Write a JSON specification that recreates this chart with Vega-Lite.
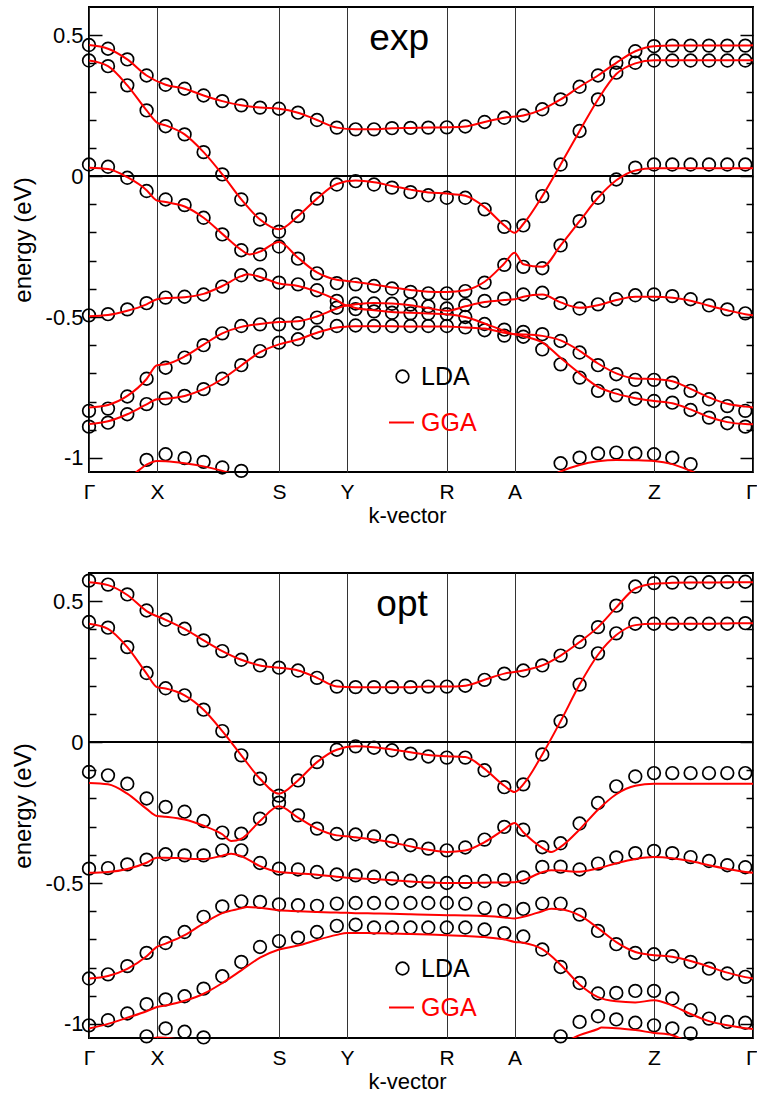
{
"$schema": "https://vega.github.io/schema/vega-lite/v6.json",
"padding": {"left": 10, "top": 6, "right": 5, "bottom": 2},
"spacing": 42,
"config": {
  "font": "Liberation Sans",
  "view": {"stroke": "black", "strokeWidth": 2},
  "axis": {"labelFont": "Liberation Sans", "titleFont": "Liberation Sans", "titleFontWeight": "normal", "labelColor": "black", "titleColor": "black"},
  "axisX": {"labelAlign": {"condition": {"test": "datum.value > 600", "value": "right"}, "value": "center"}, "labelOffset": {"condition": {"test": "datum.value > 600", "value": 4}, "value": 0}},
  "legend": {"labelFont": "Liberation Sans"}
},
"datasets": {
"exp": [
{"b":1,"k":0,"l":0.465,"g":0.465},{"b":1,"k":19,"l":0.452,"g":0.452},{"b":1,"k":38.3,"l":0.414,"g":0.414},{"b":1,"k":57.6,"l":0.357,"g":0.357},{"b":1,"k":76.6,"l":0.324,"g":0.324},{"b":1,"k":95.6,"l":0.31,"g":0.31},{"b":1,"k":114.6,"l":0.286,"g":0.286},{"b":1,"k":133.3,"l":0.266,"g":0.266},{"b":1,"k":152.3,"l":0.251,"g":0.251},{"b":1,"k":171,"l":0.243,"g":0.243},{"b":1,"k":190,"l":0.239,"g":0.239},{"b":1,"k":209,"l":0.225,"g":0.225},{"b":1,"k":228,"l":0.199,"g":0.199},{"b":1,"k":247.8,"l":0.172,"g":0.172},{"b":1,"k":266.6,"l":0.166,"g":0.166},{"b":1,"k":285,"l":0.166,"g":0.166},{"b":1,"k":303,"l":0.17,"g":0.17},{"b":1,"k":321.5,"l":0.171,"g":0.171},{"b":1,"k":339.3,"l":0.172,"g":0.172},{"b":1,"k":357.8,"l":0.173,"g":0.173},{"b":1,"k":376.3,"l":0.176,"g":0.176},{"b":1,"k":395.6,"l":0.192,"g":0.192},{"b":1,"k":415.3,"l":0.207,"g":0.207},{"b":1,"k":434.3,"l":0.215,"g":0.215},{"b":1,"k":453.3,"l":0.237,"g":0.237},{"b":1,"k":471.6,"l":0.272,"g":0.272},{"b":1,"k":490.6,"l":0.317,"g":0.317},{"b":1,"k":509,"l":0.357,"g":0.357},{"b":1,"k":527.3,"l":0.402,"g":0.402},{"b":1,"k":546.3,"l":0.443,"g":0.443},{"b":1,"k":565,"l":0.461,"g":0.461},{"b":1,"k":583.3,"l":0.463,"g":0.463},{"b":1,"k":601.6,"l":0.463,"g":0.463},{"b":1,"k":620,"l":0.463,"g":0.463},{"b":1,"k":638.3,"l":0.463,"g":0.463},{"b":1,"k":656.3,"l":0.463,"g":0.463},{"b":1,"k":664,"g":0.464},
{"b":2,"k":0,"l":0.41,"g":0.41},{"b":2,"k":19,"l":0.39,"g":0.39},{"b":2,"k":38.3,"l":0.322,"g":0.322},{"b":2,"k":57.6,"l":0.233,"g":0.233},{"b":2,"k":68,"g":0.19},{"b":2,"k":76.6,"l":0.177,"g":0.18},{"b":2,"k":95.6,"l":0.148,"g":0.148},{"b":2,"k":114.6,"l":0.085,"g":0.085},{"b":2,"k":133.3,"l":0.006,"g":0.006},{"b":2,"k":152.3,"l":-0.083,"g":-0.083},{"b":2,"k":171,"l":-0.154,"g":-0.154},{"b":2,"k":190,"l":-0.197,"g":-0.189},{"b":2,"k":209,"l":-0.142,"g":-0.142},{"b":2,"k":228,"l":-0.08,"g":-0.08},{"b":2,"k":247.8,"l":-0.03,"g":-0.028},{"b":2,"k":266.6,"l":-0.018,"g":-0.016},{"b":2,"k":285,"l":-0.03,"g":-0.022},{"b":2,"k":303,"l":-0.041,"g":-0.035},{"b":2,"k":321.5,"l":-0.057,"g":-0.048},{"b":2,"k":339.3,"l":-0.068,"g":-0.058},{"b":2,"k":357.8,"l":-0.077,"g":-0.062},{"b":2,"k":376.3,"l":-0.077,"g":-0.07},{"b":2,"k":395.6,"l":-0.118,"g":-0.11},{"b":2,"k":415.3,"l":-0.18,"g":-0.175},{"b":2,"k":425.6,"g":-0.201},{"b":2,"k":434.3,"l":-0.175,"g":-0.17},{"b":2,"k":453.3,"l":-0.071,"g":-0.071},{"b":2,"k":471.6,"l":0.041,"g":0.041},{"b":2,"k":490.6,"l":0.16,"g":0.16},{"b":2,"k":509,"l":0.272,"g":0.272},{"b":2,"k":527.3,"l":0.367,"g":0.362},{"b":2,"k":546.3,"l":0.402,"g":0.4},{"b":2,"k":565,"l":0.41,"g":0.411},{"b":2,"k":583.3,"l":0.41,"g":0.411},{"b":2,"k":601.6,"l":0.41,"g":0.411},{"b":2,"k":620,"l":0.41,"g":0.411},{"b":2,"k":638.3,"l":0.41,"g":0.411},{"b":2,"k":656.3,"l":0.41,"g":0.411},{"b":2,"k":664,"g":0.411},
{"b":3,"k":0,"l":0.041,"g":0.03},{"b":3,"k":19,"l":0.033,"g":0.025},{"b":3,"k":38.3,"l":-0.006,"g":-0.004},{"b":3,"k":57.6,"l":-0.053,"g":-0.05},{"b":3,"k":68,"g":-0.087},{"b":3,"k":76.6,"l":-0.083,"g":-0.092},{"b":3,"k":95.6,"l":-0.103,"g":-0.108},{"b":3,"k":114.6,"l":-0.148,"g":-0.148},{"b":3,"k":133.3,"l":-0.207,"g":-0.205},{"b":3,"k":152.3,"l":-0.263,"g":-0.262},{"b":3,"k":160.6,"g":-0.278},{"b":3,"k":171,"l":-0.278,"g":-0.268},{"b":3,"k":190,"l":-0.25,"g":-0.234},{"b":3,"k":209,"l":-0.293,"g":-0.29},{"b":3,"k":228,"l":-0.345,"g":-0.342},{"b":3,"k":247.8,"l":-0.38,"g":-0.368},{"b":3,"k":258,"g":-0.372},{"b":3,"k":266.6,"l":-0.384,"g":-0.376},{"b":3,"k":285,"l":-0.39,"g":-0.385},{"b":3,"k":303,"l":-0.399,"g":-0.395},{"b":3,"k":321.5,"l":-0.411,"g":-0.404},{"b":3,"k":339.3,"l":-0.416,"g":-0.41},{"b":3,"k":357.8,"l":-0.416,"g":-0.411},{"b":3,"k":376.3,"l":-0.408,"g":-0.405},{"b":3,"k":395.6,"l":-0.378,"g":-0.375},{"b":3,"k":415.3,"l":-0.315,"g":-0.31},{"b":3,"k":425.6,"g":-0.272},{"b":3,"k":434.3,"l":-0.322,"g":-0.313},{"b":3,"k":453.3,"l":-0.327,"g":-0.322},{"b":3,"k":471.6,"l":-0.246,"g":-0.246},{"b":3,"k":490.6,"l":-0.16,"g":-0.16},{"b":3,"k":509,"l":-0.077,"g":-0.077},{"b":3,"k":527.3,"l":-0.012,"g":-0.015},{"b":3,"k":546.3,"l":0.03,"g":0.02},{"b":3,"k":565,"l":0.041,"g":0.028},{"b":3,"k":583.3,"l":0.041,"g":0.028},{"b":3,"k":601.6,"l":0.041,"g":0.028},{"b":3,"k":620,"l":0.041,"g":0.028},{"b":3,"k":638.3,"l":0.041,"g":0.028},{"b":3,"k":656.3,"l":0.041,"g":0.028},{"b":3,"k":664,"g":0.028},
{"b":4,"k":0,"l":-0.494,"g":-0.497},{"b":4,"k":19,"l":-0.49,"g":-0.493},{"b":4,"k":38.3,"l":-0.473,"g":-0.478},{"b":4,"k":57.6,"l":-0.451,"g":-0.455},{"b":4,"k":68,"g":-0.437},{"b":4,"k":76.6,"l":-0.431,"g":-0.433},{"b":4,"k":95.6,"l":-0.428,"g":-0.43},{"b":4,"k":114.6,"l":-0.42,"g":-0.418},{"b":4,"k":133.3,"l":-0.392,"g":-0.39},{"b":4,"k":152.3,"l":-0.352,"g":-0.355},{"b":4,"k":159,"g":-0.348},{"b":4,"k":171,"l":-0.35,"g":-0.358},{"b":4,"k":190,"l":-0.378,"g":-0.381},{"b":4,"k":209,"l":-0.384,"g":-0.39},{"b":4,"k":228,"l":-0.405,"g":-0.41},{"b":4,"k":247.8,"l":-0.443,"g":-0.44},{"b":4,"k":258,"g":-0.459},{"b":4,"k":266.6,"l":-0.452,"g":-0.455},{"b":4,"k":285,"l":-0.452,"g":-0.45},{"b":4,"k":303,"l":-0.453,"g":-0.452},{"b":4,"k":321.5,"l":-0.456,"g":-0.458},{"b":4,"k":339.3,"l":-0.462,"g":-0.468},{"b":4,"k":357.8,"l":-0.47,"g":-0.478},{"b":4,"k":376.3,"l":-0.458,"g":-0.462},{"b":4,"k":395.6,"l":-0.443,"g":-0.447},{"b":4,"k":415.3,"l":-0.435,"g":-0.44},{"b":4,"k":425.6,"g":-0.437},{"b":4,"k":434.3,"l":-0.42,"g":-0.428},{"b":4,"k":453.3,"l":-0.414,"g":-0.42},{"b":4,"k":471.6,"l":-0.451,"g":-0.448},{"b":4,"k":490.6,"l":-0.47,"g":-0.467},{"b":4,"k":509,"l":-0.455,"g":-0.458},{"b":4,"k":527.3,"l":-0.437,"g":-0.44},{"b":4,"k":546.3,"l":-0.423,"g":-0.428},{"b":4,"k":565,"l":-0.42,"g":-0.428},{"b":4,"k":583.3,"l":-0.426,"g":-0.432},{"b":4,"k":601.6,"l":-0.437,"g":-0.442},{"b":4,"k":620,"l":-0.459,"g":-0.46},{"b":4,"k":638.3,"l":-0.473,"g":-0.476},{"b":4,"k":656.3,"l":-0.487,"g":-0.49},{"b":4,"k":664,"g":-0.494},
{"b":5,"k":0,"l":-0.833,"g":-0.821},{"b":5,"k":19,"l":-0.825,"g":-0.812},{"b":5,"k":38.3,"l":-0.782,"g":-0.78},{"b":5,"k":57.6,"l":-0.719,"g":-0.72},{"b":5,"k":68,"g":-0.671},{"b":5,"k":76.6,"l":-0.68,"g":-0.668},{"b":5,"k":95.6,"l":-0.644,"g":-0.64},{"b":5,"k":114.6,"l":-0.6,"g":-0.598},{"b":5,"k":133.3,"l":-0.558,"g":-0.558},{"b":5,"k":152.3,"l":-0.532,"g":-0.535},{"b":5,"k":171,"l":-0.526,"g":-0.525},{"b":5,"k":190,"l":-0.526,"g":-0.518},{"b":5,"k":209,"l":-0.522,"g":-0.515},{"b":5,"k":228,"l":-0.502,"g":-0.498},{"b":5,"k":247.8,"l":-0.467,"g":-0.47},{"b":5,"k":258,"g":-0.459},{"b":5,"k":266.6,"l":-0.472,"g":-0.468},{"b":5,"k":285,"l":-0.48,"g":-0.476},{"b":5,"k":303,"l":-0.485,"g":-0.482},{"b":5,"k":321.5,"l":-0.487,"g":-0.485},{"b":5,"k":339.3,"l":-0.488,"g":-0.488},{"b":5,"k":357.8,"l":-0.49,"g":-0.49},{"b":5,"k":376.3,"l":-0.5,"g":-0.5},{"b":5,"k":395.6,"l":-0.525,"g":-0.523},{"b":5,"k":415.3,"l":-0.545,"g":-0.549},{"b":5,"k":425.6,"g":-0.561},{"b":5,"k":434.3,"l":-0.553,"g":-0.562},{"b":5,"k":453.3,"l":-0.561,"g":-0.567},{"b":5,"k":471.6,"l":-0.585,"g":-0.583},{"b":5,"k":490.6,"l":-0.626,"g":-0.62},{"b":5,"k":509,"l":-0.671,"g":-0.665},{"b":5,"k":527.3,"l":-0.703,"g":-0.7},{"b":5,"k":546.3,"l":-0.723,"g":-0.718},{"b":5,"k":565,"l":-0.723,"g":-0.72},{"b":5,"k":583.3,"l":-0.733,"g":-0.728},{"b":5,"k":601.6,"l":-0.762,"g":-0.755},{"b":5,"k":620,"l":-0.792,"g":-0.785},{"b":5,"k":638.3,"l":-0.816,"g":-0.808},{"b":5,"k":656.3,"l":-0.833,"g":-0.818},{"b":5,"k":664,"g":-0.821},
{"b":6,"k":0,"l":-0.889,"g":-0.88},{"b":6,"k":19,"l":-0.875,"g":-0.87},{"b":6,"k":38.3,"l":-0.845,"g":-0.845},{"b":6,"k":57.6,"l":-0.809,"g":-0.81},{"b":6,"k":68,"g":-0.792},{"b":6,"k":76.6,"l":-0.789,"g":-0.79},{"b":6,"k":95.6,"l":-0.78,"g":-0.78},{"b":6,"k":114.6,"l":-0.756,"g":-0.756},{"b":6,"k":133.3,"l":-0.719,"g":-0.72},{"b":6,"k":152.3,"l":-0.671,"g":-0.672},{"b":6,"k":171,"l":-0.621,"g":-0.625},{"b":6,"k":190,"l":-0.591,"g":-0.597},{"b":6,"k":209,"l":-0.579,"g":-0.58},{"b":6,"k":228,"l":-0.555,"g":-0.556},{"b":6,"k":247.8,"l":-0.532,"g":-0.537},{"b":6,"k":258,"g":-0.534},{"b":6,"k":266.6,"l":-0.53,"g":-0.533},{"b":6,"k":285,"l":-0.532,"g":-0.533},{"b":6,"k":303,"l":-0.532,"g":-0.533},{"b":6,"k":321.5,"l":-0.532,"g":-0.534},{"b":6,"k":339.3,"l":-0.532,"g":-0.534},{"b":6,"k":357.8,"l":-0.532,"g":-0.534},{"b":6,"k":376.3,"l":-0.537,"g":-0.537},{"b":6,"k":395.6,"l":-0.547,"g":-0.541},{"b":6,"k":415.3,"l":-0.566,"g":-0.556},{"b":6,"k":425.6,"g":-0.561},{"b":6,"k":434.3,"l":-0.57,"g":-0.568},{"b":6,"k":453.3,"l":-0.615,"g":-0.59},{"b":6,"k":471.6,"l":-0.668,"g":-0.645},{"b":6,"k":490.6,"l":-0.715,"g":-0.7},{"b":6,"k":509,"l":-0.762,"g":-0.748},{"b":6,"k":527.3,"l":-0.778,"g":-0.772},{"b":6,"k":546.3,"l":-0.79,"g":-0.788},{"b":6,"k":565,"l":-0.798,"g":-0.798},{"b":6,"k":583.3,"l":-0.804,"g":-0.806},{"b":6,"k":601.6,"l":-0.83,"g":-0.828},{"b":6,"k":620,"l":-0.857,"g":-0.855},{"b":6,"k":638.3,"l":-0.877,"g":-0.873},{"b":6,"k":656.3,"l":-0.889,"g":-0.88},{"b":6,"k":664,"g":-0.881},
{"b":7,"k":38.3,"g":-1.075},{"b":7,"k":49,"g":-1.046},{"b":7,"k":57.6,"l":-1.007,"g":-1.024},{"b":7,"k":68,"g":-1.011},{"b":7,"k":76.6,"l":-0.987,"g":-1.012},{"b":7,"k":95.6,"l":-1.001,"g":-1.019},{"b":7,"k":114.6,"l":-1.014,"g":-1.03},{"b":7,"k":133.3,"l":-1.034,"g":-1.046},{"b":7,"k":152.3,"l":-1.046,"g":-1.065},
{"b":8,"k":453.3,"g":-1.08},{"b":8,"k":471.6,"l":-1.019,"g":-1.048},{"b":8,"k":490.6,"l":-0.999,"g":-1.025},{"b":8,"k":509,"l":-0.984,"g":-1.012},{"b":8,"k":527.3,"l":-0.981,"g":-1.007},{"b":8,"k":546.3,"l":-0.984,"g":-1.008},{"b":8,"k":565,"l":-0.987,"g":-1.011},{"b":8,"k":583.3,"l":-0.999,"g":-1.022},{"b":8,"k":601.6,"l":-1.022,"g":-1.046},{"b":8,"k":620,"g":-1.075}
],
"opt": [
{"b":1,"k":0,"l":0.573,"g":0.567},{"b":1,"k":19,"l":0.559,"g":0.557},{"b":1,"k":38.3,"l":0.524,"g":0.522},{"b":1,"k":57.6,"l":0.467,"g":0.465},{"b":1,"k":76.6,"l":0.434,"g":0.434},{"b":1,"k":95.6,"l":0.402,"g":0.402},{"b":1,"k":114.6,"l":0.361,"g":0.361},{"b":1,"k":133.3,"l":0.323,"g":0.323},{"b":1,"k":152.3,"l":0.292,"g":0.292},{"b":1,"k":171,"l":0.272,"g":0.272},{"b":1,"k":190,"l":0.264,"g":0.264},{"b":1,"k":209,"l":0.254,"g":0.254},{"b":1,"k":228,"l":0.228,"g":0.228},{"b":1,"k":247.8,"l":0.197,"g":0.197},{"b":1,"k":266.6,"l":0.195,"g":0.195},{"b":1,"k":285,"l":0.195,"g":0.195},{"b":1,"k":303,"l":0.195,"g":0.195},{"b":1,"k":321.5,"l":0.195,"g":0.195},{"b":1,"k":339.3,"l":0.197,"g":0.197},{"b":1,"k":357.8,"l":0.197,"g":0.197},{"b":1,"k":376.3,"l":0.2,"g":0.2},{"b":1,"k":395.6,"l":0.221,"g":0.221},{"b":1,"k":415.3,"l":0.243,"g":0.243},{"b":1,"k":434.3,"l":0.254,"g":0.254},{"b":1,"k":453.3,"l":0.272,"g":0.272},{"b":1,"k":471.6,"l":0.307,"g":0.307},{"b":1,"k":490.6,"l":0.355,"g":0.355},{"b":1,"k":509,"l":0.408,"g":0.408},{"b":1,"k":527.3,"l":0.484,"g":0.478},{"b":1,"k":546.3,"l":0.552,"g":0.545},{"b":1,"k":565,"l":0.564,"g":0.562},{"b":1,"k":583.3,"l":0.566,"g":0.565},{"b":1,"k":601.6,"l":0.566,"g":0.566},{"b":1,"k":620,"l":0.567,"g":0.566},{"b":1,"k":638.3,"l":0.568,"g":0.567},{"b":1,"k":656.3,"l":0.569,"g":0.567},{"b":1,"k":664,"g":0.567},
{"b":2,"k":0,"l":0.426,"g":0.42},{"b":2,"k":19,"l":0.406,"g":0.402},{"b":2,"k":38.3,"l":0.337,"g":0.337},{"b":2,"k":57.6,"l":0.245,"g":0.243},{"b":2,"k":68,"g":0.195},{"b":2,"k":76.6,"l":0.191,"g":0.19},{"b":2,"k":95.6,"l":0.166,"g":0.166},{"b":2,"k":114.6,"l":0.115,"g":0.115},{"b":2,"k":133.3,"l":0.039,"g":0.039},{"b":2,"k":152.3,"l":-0.047,"g":-0.047},{"b":2,"k":171,"l":-0.13,"g":-0.13},{"b":2,"k":190,"l":-0.19,"g":-0.183},{"b":2,"k":209,"l":-0.136,"g":-0.136},{"b":2,"k":228,"l":-0.071,"g":-0.071},{"b":2,"k":247.8,"l":-0.027,"g":-0.027},{"b":2,"k":266.6,"l":-0.015,"g":-0.015},{"b":2,"k":285,"l":-0.02,"g":-0.018},{"b":2,"k":303,"l":-0.029,"g":-0.026},{"b":2,"k":321.5,"l":-0.041,"g":-0.036},{"b":2,"k":339.3,"l":-0.051,"g":-0.046},{"b":2,"k":357.8,"l":-0.055,"g":-0.05},{"b":2,"k":376.3,"l":-0.055,"g":-0.053},{"b":2,"k":395.6,"l":-0.1,"g":-0.095},{"b":2,"k":415.3,"l":-0.16,"g":-0.155},{"b":2,"k":425.6,"g":-0.177},{"b":2,"k":434.3,"l":-0.15,"g":-0.15},{"b":2,"k":453.3,"l":-0.044,"g":-0.044},{"b":2,"k":471.6,"l":0.074,"g":0.074},{"b":2,"k":490.6,"l":0.204,"g":0.204},{"b":2,"k":509,"l":0.315,"g":0.31},{"b":2,"k":527.3,"l":0.386,"g":0.38},{"b":2,"k":546.3,"l":0.42,"g":0.415},{"b":2,"k":565,"l":0.42,"g":0.42},{"b":2,"k":583.3,"l":0.42,"g":0.42},{"b":2,"k":601.6,"l":0.42,"g":0.42},{"b":2,"k":620,"l":0.42,"g":0.42},{"b":2,"k":638.3,"l":0.42,"g":0.421},{"b":2,"k":656.3,"l":0.422,"g":0.422},{"b":2,"k":664,"g":0.422},
{"b":3,"k":0,"l":-0.106,"g":-0.145},{"b":3,"k":19,"l":-0.118,"g":-0.15},{"b":3,"k":38.3,"l":-0.148,"g":-0.183},{"b":3,"k":57.6,"l":-0.2,"g":-0.237},{"b":3,"k":68,"g":-0.262},{"b":3,"k":76.6,"l":-0.23,"g":-0.265},{"b":3,"k":95.6,"l":-0.247,"g":-0.275},{"b":3,"k":114.6,"l":-0.28,"g":-0.297},{"b":3,"k":133.3,"l":-0.321,"g":-0.327},{"b":3,"k":142.3,"g":-0.351},{"b":3,"k":152.3,"l":-0.325,"g":-0.343},{"b":3,"k":171,"l":-0.272,"g":-0.28},{"b":3,"k":190,"l":-0.215,"g":-0.228},{"b":3,"k":209,"l":-0.26,"g":-0.268},{"b":3,"k":228,"l":-0.307,"g":-0.307},{"b":3,"k":247.8,"l":-0.326,"g":-0.331},{"b":3,"k":258,"g":-0.334},{"b":3,"k":266.6,"l":-0.328,"g":-0.338},{"b":3,"k":285,"l":-0.335,"g":-0.346},{"b":3,"k":303,"l":-0.351,"g":-0.356},{"b":3,"k":321.5,"l":-0.366,"g":-0.37},{"b":3,"k":339.3,"l":-0.378,"g":-0.382},{"b":3,"k":357.8,"l":-0.384,"g":-0.39},{"b":3,"k":376.3,"l":-0.374,"g":-0.385},{"b":3,"k":395.6,"l":-0.346,"g":-0.355},{"b":3,"k":415.3,"l":-0.301,"g":-0.31},{"b":3,"k":425.6,"g":-0.287},{"b":3,"k":434.3,"l":-0.311,"g":-0.32},{"b":3,"k":453.3,"l":-0.373,"g":-0.375},{"b":3,"k":462.3,"g":-0.39},{"b":3,"k":471.6,"l":-0.359,"g":-0.372},{"b":3,"k":490.6,"l":-0.289,"g":-0.31},{"b":3,"k":509,"l":-0.216,"g":-0.24},{"b":3,"k":527.3,"l":-0.157,"g":-0.185},{"b":3,"k":546.3,"l":-0.122,"g":-0.155},{"b":3,"k":565,"l":-0.11,"g":-0.148},{"b":3,"k":583.3,"l":-0.11,"g":-0.148},{"b":3,"k":601.6,"l":-0.11,"g":-0.148},{"b":3,"k":620,"l":-0.11,"g":-0.148},{"b":3,"k":638.3,"l":-0.11,"g":-0.148},{"b":3,"k":656.3,"l":-0.11,"g":-0.148},{"b":3,"k":664,"g":-0.148},
{"b":4,"k":0,"l":-0.449,"g":-0.464},{"b":4,"k":19,"l":-0.447,"g":-0.461},{"b":4,"k":38.3,"l":-0.434,"g":-0.45},{"b":4,"k":57.6,"l":-0.417,"g":-0.428},{"b":4,"k":68,"g":-0.41},{"b":4,"k":76.6,"l":-0.398,"g":-0.41},{"b":4,"k":95.6,"l":-0.402,"g":-0.413},{"b":4,"k":114.6,"l":-0.402,"g":-0.415},{"b":4,"k":133.3,"l":-0.384,"g":-0.403},{"b":4,"k":142.3,"g":-0.396},{"b":4,"k":152.3,"l":-0.384,"g":-0.405},{"b":4,"k":171,"l":-0.429,"g":-0.44},{"b":4,"k":190,"l":-0.449,"g":-0.461},{"b":4,"k":209,"l":-0.452,"g":-0.466},{"b":4,"k":228,"l":-0.461,"g":-0.471},{"b":4,"k":247.8,"l":-0.47,"g":-0.478},{"b":4,"k":258,"g":-0.481},{"b":4,"k":266.6,"l":-0.473,"g":-0.483},{"b":4,"k":285,"l":-0.478,"g":-0.486},{"b":4,"k":303,"l":-0.484,"g":-0.49},{"b":4,"k":321.5,"l":-0.492,"g":-0.495},{"b":4,"k":339.3,"l":-0.496,"g":-0.498},{"b":4,"k":357.8,"l":-0.5,"g":-0.5},{"b":4,"k":376.3,"l":-0.496,"g":-0.5},{"b":4,"k":395.6,"l":-0.493,"g":-0.499},{"b":4,"k":415.3,"l":-0.489,"g":-0.498},{"b":4,"k":425.6,"g":-0.497},{"b":4,"k":434.3,"l":-0.48,"g":-0.49},{"b":4,"k":453.3,"l":-0.443,"g":-0.462},{"b":4,"k":462.3,"g":-0.455},{"b":4,"k":471.6,"l":-0.442,"g":-0.456},{"b":4,"k":490.6,"l":-0.452,"g":-0.46},{"b":4,"k":509,"l":-0.431,"g":-0.448},{"b":4,"k":527.3,"l":-0.409,"g":-0.43},{"b":4,"k":546.3,"l":-0.394,"g":-0.415},{"b":4,"k":565,"l":-0.386,"g":-0.408},{"b":4,"k":583.3,"l":-0.394,"g":-0.412},{"b":4,"k":601.6,"l":-0.408,"g":-0.422},{"b":4,"k":620,"l":-0.422,"g":-0.437},{"b":4,"k":638.3,"l":-0.437,"g":-0.45},{"b":4,"k":656.3,"l":-0.444,"g":-0.461},{"b":4,"k":664,"g":-0.464},
{"b":5,"k":0,"l":-0.839,"g":-0.839},{"b":5,"k":19,"l":-0.824,"g":-0.83},{"b":5,"k":38.3,"l":-0.795,"g":-0.805},{"b":5,"k":57.6,"l":-0.748,"g":-0.76},{"b":5,"k":68,"g":-0.727},{"b":5,"k":76.6,"l":-0.713,"g":-0.715},{"b":5,"k":95.6,"l":-0.674,"g":-0.685},{"b":5,"k":114.6,"l":-0.62,"g":-0.643},{"b":5,"k":133.3,"l":-0.583,"g":-0.607},{"b":5,"k":152.3,"l":-0.565,"g":-0.59},{"b":5,"k":158,"g":-0.585},{"b":5,"k":171,"l":-0.567,"g":-0.588},{"b":5,"k":190,"l":-0.576,"g":-0.597},{"b":5,"k":209,"l":-0.579,"g":-0.6},{"b":5,"k":228,"l":-0.581,"g":-0.603},{"b":5,"k":247.8,"l":-0.573,"g":-0.605},{"b":5,"k":258,"g":-0.606},{"b":5,"k":266.6,"l":-0.571,"g":-0.607},{"b":5,"k":285,"l":-0.571,"g":-0.608},{"b":5,"k":303,"l":-0.571,"g":-0.609},{"b":5,"k":321.5,"l":-0.571,"g":-0.611},{"b":5,"k":339.3,"l":-0.571,"g":-0.613},{"b":5,"k":357.8,"l":-0.571,"g":-0.614},{"b":5,"k":376.3,"l":-0.573,"g":-0.615},{"b":5,"k":395.6,"l":-0.589,"g":-0.617},{"b":5,"k":415.3,"l":-0.598,"g":-0.622},{"b":5,"k":425.6,"g":-0.626},{"b":5,"k":434.3,"l":-0.592,"g":-0.62},{"b":5,"k":453.3,"l":-0.573,"g":-0.6},{"b":5,"k":462.3,"g":-0.591},{"b":5,"k":471.6,"l":-0.573,"g":-0.593},{"b":5,"k":490.6,"l":-0.612,"g":-0.615},{"b":5,"k":509,"l":-0.67,"g":-0.66},{"b":5,"k":527.3,"l":-0.717,"g":-0.71},{"b":5,"k":546.3,"l":-0.748,"g":-0.745},{"b":5,"k":565,"l":-0.753,"g":-0.756},{"b":5,"k":583.3,"l":-0.76,"g":-0.762},{"b":5,"k":601.6,"l":-0.78,"g":-0.777},{"b":5,"k":620,"l":-0.804,"g":-0.797},{"b":5,"k":638.3,"l":-0.821,"g":-0.818},{"b":5,"k":656.3,"l":-0.833,"g":-0.834},{"b":5,"k":664,"g":-0.839},
{"b":6,"k":0,"l":-1.005,"g":-1.016},{"b":6,"k":19,"l":-0.987,"g":-1.0},{"b":6,"k":38.3,"l":-0.963,"g":-0.978},{"b":6,"k":57.6,"l":-0.93,"g":-0.955},{"b":6,"k":68,"g":-0.94},{"b":6,"k":76.6,"l":-0.913,"g":-0.935},{"b":6,"k":95.6,"l":-0.902,"g":-0.918},{"b":6,"k":114.6,"l":-0.875,"g":-0.893},{"b":6,"k":133.3,"l":-0.831,"g":-0.855},{"b":6,"k":152.3,"l":-0.78,"g":-0.81},{"b":6,"k":171,"l":-0.727,"g":-0.765},{"b":6,"k":190,"l":-0.706,"g":-0.736},{"b":6,"k":209,"l":-0.694,"g":-0.722},{"b":6,"k":228,"l":-0.674,"g":-0.702},{"b":6,"k":247.8,"l":-0.652,"g":-0.684},{"b":6,"k":258,"g":-0.677},{"b":6,"k":266.6,"l":-0.648,"g":-0.677},{"b":6,"k":285,"l":-0.658,"g":-0.678},{"b":6,"k":303,"l":-0.658,"g":-0.679},{"b":6,"k":321.5,"l":-0.658,"g":-0.681},{"b":6,"k":339.3,"l":-0.658,"g":-0.683},{"b":6,"k":357.8,"l":-0.658,"g":-0.685},{"b":6,"k":376.3,"l":-0.658,"g":-0.688},{"b":6,"k":395.6,"l":-0.665,"g":-0.692},{"b":6,"k":415.3,"l":-0.678,"g":-0.7},{"b":6,"k":425.6,"g":-0.709},{"b":6,"k":434.3,"l":-0.69,"g":-0.712},{"b":6,"k":453.3,"l":-0.736,"g":-0.735},{"b":6,"k":471.6,"l":-0.798,"g":-0.79},{"b":6,"k":490.6,"l":-0.855,"g":-0.86},{"b":6,"k":509,"l":-0.892,"g":-0.905},{"b":6,"k":527.3,"l":-0.89,"g":-0.92},{"b":6,"k":546.3,"l":-0.883,"g":-0.924},{"b":6,"k":565,"l":-0.883,"g":-0.916},{"b":6,"k":583.3,"l":-0.91,"g":-0.935},{"b":6,"k":601.6,"l":-0.951,"g":-0.965},{"b":6,"k":620,"l":-0.981,"g":-0.99},{"b":6,"k":638.3,"l":-0.993,"g":-1.005},{"b":6,"k":656.3,"l":-0.996,"g":-1.015},{"b":6,"k":664,"g":-1.018},
{"b":7,"k":57.6,"l":-1.044,"g":-1.07},{"b":7,"k":68,"g":-1.048},{"b":7,"k":76.6,"l":-1.016,"g":-1.049},{"b":7,"k":95.6,"l":-1.028,"g":-1.06},{"b":7,"k":114.6,"l":-1.048},
{"b":8,"k":471.6,"l":-1.044,"g":-1.075},{"b":8,"k":485.6,"g":-1.048},{"b":8,"k":490.6,"l":-0.993,"g":-1.04},{"b":8,"k":509,"l":-0.973,"g":-1.018},{"b":8,"k":512.3,"g":-1.013},{"b":8,"k":527.3,"l":-0.984,"g":-1.015},{"b":8,"k":546.3,"l":-0.996,"g":-1.022},{"b":8,"k":565,"l":-1.005,"g":-1.032},{"b":8,"k":583.3,"l":-1.016,"g":-1.04},{"b":8,"k":589,"g":-1.048},{"b":8,"k":601.6,"l":-1.034,"g":-1.062}
]
},
"resolve": {"legend": {"shape": "independent", "color": "independent"}},
"vconcat": [
{
 "width": 664, "height": 465,
 "data": {"name": "exp"},
 "layer": [
  {"data": {"values": [{"level": "Fermi level"}]},
   "mark": {"type": "rule", "color": "black", "strokeWidth": 2},
   "encoding": {"y": {"datum": 0, "type": "quantitative", "scale": {"domain": [-1.05, 0.6], "nice": false, "zero": false},
     "axis": {"orient": "right", "values": [-1,-0.9,-0.8,-0.7,-0.6,-0.5,-0.4,-0.3,-0.2,-0.1,0,0.1,0.2,0.3,0.4,0.5], "labels": false, "domain": false, "grid": false, "title": null, "tickColor": "black", "tickWidth": 1.5, "tickSize": {"condition": {"test": "abs(datum.value * 2 - round(datum.value * 2)) < 0.01", "value": -13}, "value": -7}}}}},
  {"transform": [{"filter": "isValid(datum.l)"}],
   "mark": {"type": "point", "filled": false, "color": "black", "strokeWidth": 1.7, "size": 160, "opacity": 1},
   "encoding": {
    "x": {"field": "k", "type": "quantitative", "scale": {"domain": [0, 664], "nice": false, "zero": false},
      "axis": {"values": [0, 68, 190, 258, 357.6, 425.6, 565, 664], "labelExpr": "datum.value < 30 ? 'Γ' : datum.value < 100 ? 'X' : datum.value < 220 ? 'S' : datum.value < 300 ? 'Y' : datum.value < 400 ? 'R' : datum.value < 500 ? 'A' : datum.value < 600 ? 'Z' : 'Γ'", "labelFlush": false, "labelOverlap": false, "grid": true, "gridColor": "#333333", "gridWidth": 1, "ticks": false, "domain": false, "labelFontSize": 21, "labelPadding": 9, "title": "k-vector", "titleFontSize": 22, "titlePadding": 3, "titleX": 318, "titleAlign": "center"}},
    "y": {"field": "l", "type": "quantitative", "scale": {"domain": [-1.05, 0.6], "nice": false, "zero": false},
      "axis": {"orient": "left", "values": [-1, -0.5, 0, 0.5], "labelExpr": "datum.value == 0 ? '0' : datum.value == 0.5 ? '0.5' : datum.value == -0.5 ? '-0.5' : '-1'", "ticks": false, "domain": false, "grid": false, "labelFontSize": 22, "labelPadding": 6, "title": "energy (eV)", "titleFontSize": 24, "titlePadding": 10}},
    "shape": {"datum": "LDA", "scale": {"range": ["circle"]},
      "legend": {"title": null, "orient": "none", "legendX": 301, "legendY": 357, "padding": 0, "labelFontSize": 25, "labelColor": "black", "symbolStrokeColor": "black", "symbolStrokeWidth": 1.7, "symbolSize": 160, "symbolFillColor": "transparent", "labelOffset": 6}}
   }},
  {"transform": [{"filter": "isValid(datum.g)"}],
   "mark": {"type": "line", "interpolate": "monotone", "strokeWidth": 2, "clip": true},
   "encoding": {
    "x": {"field": "k", "type": "quantitative", "scale": {"domain": [0, 664], "nice": false, "zero": false},
      "axis": {"values": [0, 68, 190, 258, 357.6, 425.6, 565, 664], "labelExpr": "datum.value < 30 ? 'Γ' : datum.value < 100 ? 'X' : datum.value < 220 ? 'S' : datum.value < 300 ? 'Y' : datum.value < 400 ? 'R' : datum.value < 500 ? 'A' : datum.value < 600 ? 'Z' : 'Γ'", "labelFlush": false, "labelOverlap": false, "grid": true, "gridColor": "#333333", "gridWidth": 1, "ticks": false, "domain": false, "labelFontSize": 21, "labelPadding": 9, "title": "k-vector", "titleFontSize": 22, "titlePadding": 3, "titleX": 318, "titleAlign": "center"}},
    "y": {"field": "g", "type": "quantitative", "scale": {"domain": [-1.05, 0.6], "nice": false, "zero": false},
      "axis": {"orient": "left", "values": [-1,-0.9,-0.8,-0.7,-0.6,-0.5,-0.4,-0.3,-0.2,-0.1,0,0.1,0.2,0.3,0.4,0.5], "labels": false, "domain": false, "grid": false, "title": null, "tickColor": "black", "tickWidth": 1.5, "tickSize": {"condition": {"test": "abs(datum.value * 2 - round(datum.value * 2)) < 0.01", "value": -13}, "value": -7}}},
    "detail": {"field": "b", "type": "nominal"},
    "color": {"datum": "GGA", "scale": {"range": ["#ff0000"]},
      "legend": {"title": null, "orient": "none", "legendX": 299, "legendY": 402, "padding": 0, "labelFontSize": 25, "labelColor": "#ff0000", "symbolType": "stroke", "symbolSize": 625, "symbolStrokeWidth": 2, "labelOffset": 6}}
   }},
  {"data": {"values": [{"label": "exp"}]},
   "mark": {"type": "text", "fontSize": 37, "align": "left", "baseline": "alphabetic", "font": "Liberation Sans", "color": "black"},
   "encoding": {"x": {"datum": 280.3, "type": "quantitative"}, "y": {"datum": 0.449, "type": "quantitative", "axis": null}, "text": {"field": "label"}}}
 ],
 "resolve": {"axis": {"y": "independent"}}
},
{
 "width": 664, "height": 465,
 "data": {"name": "opt"},
 "layer": [
  {"data": {"values": [{"level": "Fermi level"}]},
   "mark": {"type": "rule", "color": "black", "strokeWidth": 2},
   "encoding": {"y": {"datum": 0, "type": "quantitative", "scale": {"domain": [-1.05, 0.6], "nice": false, "zero": false},
     "axis": {"orient": "right", "values": [-1,-0.9,-0.8,-0.7,-0.6,-0.5,-0.4,-0.3,-0.2,-0.1,0,0.1,0.2,0.3,0.4,0.5], "labels": false, "domain": false, "grid": false, "title": null, "tickColor": "black", "tickWidth": 1.5, "tickSize": {"condition": {"test": "abs(datum.value * 2 - round(datum.value * 2)) < 0.01", "value": -13}, "value": -7}}}}},
  {"transform": [{"filter": "isValid(datum.l)"}],
   "mark": {"type": "point", "filled": false, "color": "black", "strokeWidth": 1.7, "size": 160, "opacity": 1},
   "encoding": {
    "x": {"field": "k", "type": "quantitative", "scale": {"domain": [0, 664], "nice": false, "zero": false},
      "axis": {"values": [0, 68, 190, 258, 357.6, 425.6, 565, 664], "labelExpr": "datum.value < 30 ? 'Γ' : datum.value < 100 ? 'X' : datum.value < 220 ? 'S' : datum.value < 300 ? 'Y' : datum.value < 400 ? 'R' : datum.value < 500 ? 'A' : datum.value < 600 ? 'Z' : 'Γ'", "labelFlush": false, "labelOverlap": false, "grid": true, "gridColor": "#333333", "gridWidth": 1, "ticks": false, "domain": false, "labelFontSize": 21, "labelPadding": 9, "title": "k-vector", "titleFontSize": 22, "titlePadding": 3, "titleX": 318, "titleAlign": "center"}},
    "y": {"field": "l", "type": "quantitative", "scale": {"domain": [-1.05, 0.6], "nice": false, "zero": false},
      "axis": {"orient": "left", "values": [-1, -0.5, 0, 0.5], "labelExpr": "datum.value == 0 ? '0' : datum.value == 0.5 ? '0.5' : datum.value == -0.5 ? '-0.5' : '-1'", "ticks": false, "domain": false, "grid": false, "labelFontSize": 22, "labelPadding": 6, "title": "energy (eV)", "titleFontSize": 24, "titlePadding": 10}},
    "shape": {"datum": "LDA", "scale": {"range": ["circle"]},
      "legend": {"title": null, "orient": "none", "legendX": 301, "legendY": 383, "padding": 0, "labelFontSize": 25, "labelColor": "black", "symbolStrokeColor": "black", "symbolStrokeWidth": 1.7, "symbolSize": 160, "symbolFillColor": "transparent", "labelOffset": 6}}
   }},
  {"transform": [{"filter": "isValid(datum.g)"}],
   "mark": {"type": "line", "interpolate": "monotone", "strokeWidth": 2, "clip": true},
   "encoding": {
    "x": {"field": "k", "type": "quantitative", "scale": {"domain": [0, 664], "nice": false, "zero": false},
      "axis": {"values": [0, 68, 190, 258, 357.6, 425.6, 565, 664], "labelExpr": "datum.value < 30 ? 'Γ' : datum.value < 100 ? 'X' : datum.value < 220 ? 'S' : datum.value < 300 ? 'Y' : datum.value < 400 ? 'R' : datum.value < 500 ? 'A' : datum.value < 600 ? 'Z' : 'Γ'", "labelFlush": false, "labelOverlap": false, "grid": true, "gridColor": "#333333", "gridWidth": 1, "ticks": false, "domain": false, "labelFontSize": 21, "labelPadding": 9, "title": "k-vector", "titleFontSize": 22, "titlePadding": 3, "titleX": 318, "titleAlign": "center"}},
    "y": {"field": "g", "type": "quantitative", "scale": {"domain": [-1.05, 0.6], "nice": false, "zero": false},
      "axis": {"orient": "left", "values": [-1,-0.9,-0.8,-0.7,-0.6,-0.5,-0.4,-0.3,-0.2,-0.1,0,0.1,0.2,0.3,0.4,0.5], "labels": false, "domain": false, "grid": false, "title": null, "tickColor": "black", "tickWidth": 1.5, "tickSize": {"condition": {"test": "abs(datum.value * 2 - round(datum.value * 2)) < 0.01", "value": -13}, "value": -7}}},
    "detail": {"field": "b", "type": "nominal"},
    "color": {"datum": "GGA", "scale": {"range": ["#ff0000"]},
      "legend": {"title": null, "orient": "none", "legendX": 299, "legendY": 421, "padding": 0, "labelFontSize": 25, "labelColor": "#ff0000", "symbolType": "stroke", "symbolSize": 625, "symbolStrokeWidth": 2, "labelOffset": 6}}
   }},
  {"data": {"values": [{"label": "opt"}]},
   "mark": {"type": "text", "fontSize": 37, "align": "left", "baseline": "alphabetic", "font": "Liberation Sans", "color": "black"},
   "encoding": {"x": {"datum": 287.3, "type": "quantitative"}, "y": {"datum": 0.449, "type": "quantitative", "axis": null}, "text": {"field": "label"}}}
 ],
 "resolve": {"axis": {"y": "independent"}}
}
]
}
